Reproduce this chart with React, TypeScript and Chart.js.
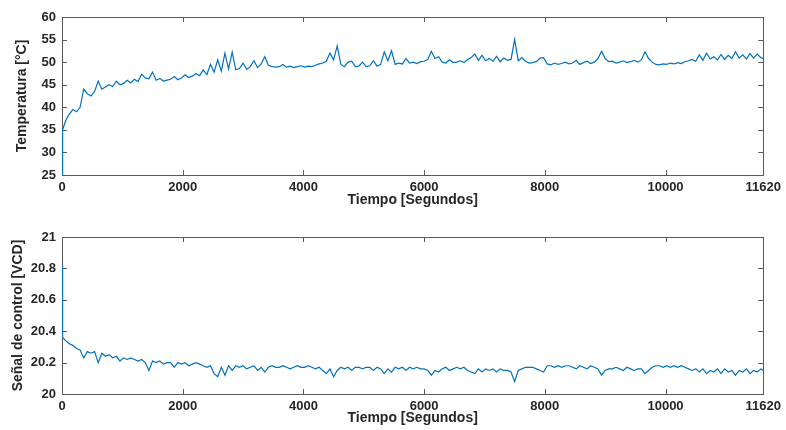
import React, { useEffect, useRef } from "react";
import { Chart, registerables } from "chart.js";

Chart.register(...registerables);

const times = [
  0, 10, 60, 120, 180, 240, 300, 360, 420, 480, 540,
  600, 660, 720, 780, 840, 900, 960, 1020, 1080, 1140,
  1200, 1260, 1320, 1380, 1440, 1500, 1560, 1620, 1680, 1740,
  1800, 1860, 1920, 1980, 2040, 2100, 2160, 2220, 2280, 2340,
  2400, 2460, 2520, 2580, 2640, 2700, 2760, 2820, 2880, 2940,
  3000, 3060, 3120, 3180, 3240, 3300, 3360, 3420, 3480, 3540,
  3600, 3660, 3720, 3780, 3840, 3900, 3960, 4020, 4080, 4140,
  4200, 4260, 4320, 4380, 4440, 4500, 4560, 4620, 4680, 4740,
  4800, 4860, 4920, 4980, 5040, 5100, 5160, 5220, 5280, 5340,
  5400, 5460, 5520, 5580, 5640, 5700, 5760, 5820, 5880, 5940,
  6000, 6060, 6120, 6180, 6240, 6300, 6360, 6420, 6480, 6540,
  6600, 6660, 6720, 6780, 6840, 6900, 6960, 7020, 7080, 7140,
  7200, 7260, 7320, 7380, 7440, 7500, 7560, 7620, 7680, 7740,
  7800, 7860, 7920, 7980, 8040, 8100, 8160, 8220, 8280, 8340,
  8400, 8460, 8520, 8580, 8640, 8700, 8760, 8820, 8880, 8940,
  9000, 9060, 9120, 9180, 9240, 9300, 9360, 9420, 9480, 9540,
  9600, 9660, 9720, 9780, 9840, 9900, 9960, 10020, 10080, 10140,
  10200, 10260, 10320, 10380, 10440, 10500, 10560, 10620, 10680, 10740,
  10800, 10860, 10920, 10980, 11040, 11100, 11160, 11220, 11280, 11340,
  11400, 11460, 11520, 11580, 11620,
];

const temperature = [
  25, 35, 37, 38.5, 39.5, 39, 40, 44, 43, 42.5, 43.5,
  45.8, 44, 44.5, 45, 44.6, 45.8, 45, 45.3, 46, 45.4,
  46.2, 45.7, 47.3, 46.5, 46.3, 47.8, 46, 46.4, 45.8, 46,
  46.2, 46.8, 46.1, 46.5, 47.2, 46.6, 46.9, 47.5, 47, 48.3,
  47.2, 49.5, 47.8, 50.5, 48, 52, 48.5, 52.2, 48.3, 48.6,
  49.8, 48.4, 49, 50.3, 48.8, 49.6, 51.2, 49.3, 49, 48.9,
  49, 49.5, 48.9, 49.1, 48.8, 49, 49.2, 48.9, 49.1, 49,
  49.3, 49.6, 49.8, 50.2, 52, 50.5, 53.6, 49.5, 49, 50,
  50.2, 49, 49.1, 50, 49, 49.2, 50.3, 49.1, 49.5, 52.3,
  50.3, 52.5, 49.5, 49.8, 49.6, 50.8, 49.8, 50, 49.7, 50.1,
  50.2, 50.6, 52.4, 50.8, 51.2, 50, 49.8, 50.5, 49.9, 50,
  50.3, 49.9, 50.6, 51, 51.8, 50.4, 51.5, 50.3, 50.8, 50.2,
  51.3, 50.1, 50.9, 50.4, 50.6, 55, 50.3, 51, 50.2, 49.8,
  49.9, 50.1, 50.9, 51, 49.6, 49.4, 49.8, 49.5, 49.7, 50,
  49.6, 49.8, 50.4, 49.5, 49.9, 50.2, 49.7, 50, 50.8, 52.4,
  50.8, 50.1, 50.2, 49.8, 50, 50.3, 49.9, 50.1, 50.4, 50,
  50.5, 52.3, 50.8, 50, 49.5, 49.4, 49.6, 49.5, 49.8, 49.6,
  49.9, 49.7, 50.1, 50.3, 50.6, 50.2, 51.6, 50.4, 52, 50.7,
  51.2, 50.5, 51.7, 50.6, 51.5, 50.8, 52.3, 50.9, 51.6, 50.7,
  51.9, 50.9, 51.8, 51, 50.8,
];

const control = [
  20.82, 20.36, 20.34, 20.32, 20.31, 20.29, 20.28, 20.23, 20.27, 20.26, 20.27,
  20.2, 20.26, 20.24, 20.25, 20.23, 20.24, 20.21, 20.23, 20.22, 20.23,
  20.22, 20.21, 20.22, 20.2, 20.15, 20.21, 20.2, 20.21, 20.19, 20.2,
  20.2, 20.17, 20.2, 20.19, 20.2, 20.18, 20.19, 20.2, 20.19, 20.18,
  20.17, 20.18, 20.13, 20.11, 20.17, 20.12, 20.18, 20.15, 20.18, 20.17,
  20.18, 20.16, 20.17, 20.18, 20.15, 20.17, 20.14, 20.17, 20.18, 20.17,
  20.17, 20.18, 20.17, 20.16, 20.17, 20.18, 20.17, 20.17, 20.18, 20.17,
  20.16, 20.17, 20.15, 20.13, 20.16, 20.11, 20.15, 20.17, 20.16, 20.17,
  20.15, 20.17, 20.17, 20.16, 20.17, 20.17, 20.15, 20.17, 20.16, 20.13,
  20.16, 20.14, 20.17, 20.16, 20.17, 20.15, 20.17, 20.16, 20.17, 20.16,
  20.16, 20.15, 20.12, 20.15, 20.14, 20.16, 20.17, 20.15, 20.16, 20.17,
  20.16, 20.17, 20.15, 20.14, 20.13, 20.16, 20.14, 20.16, 20.15, 20.16,
  20.14, 20.16, 20.15, 20.15, 20.14, 20.08, 20.15, 20.16, 20.17, 20.17,
  20.17, 20.16, 20.15, 20.14, 20.18, 20.18, 20.17, 20.18, 20.17, 20.18,
  20.18, 20.17, 20.16, 20.18, 20.17, 20.16, 20.18, 20.17, 20.16, 20.12,
  20.15, 20.16, 20.16, 20.17, 20.16, 20.15, 20.17, 20.16, 20.15, 20.16,
  20.16, 20.13, 20.15, 20.17, 20.18, 20.18, 20.17, 20.18, 20.17, 20.18,
  20.17, 20.18, 20.17, 20.16, 20.15, 20.16, 20.14, 20.16, 20.13, 20.15,
  20.14, 20.16, 20.13, 20.16, 20.14, 20.15, 20.12, 20.15, 20.14, 20.16,
  20.13, 20.15, 20.14, 20.16, 20.15,
];

const xTicks = [0, 2000, 4000, 6000, 8000, 10000, 11620];
const xTitle = "Tiempo [Segundos]";
const tempTitle = "Temperatura [°C]";
const controlTitle = "Señal de control [VCD]";

const FONT = "'Liberation Sans', Arial, Helvetica, sans-serif";
const TXT = "#262626";
const LINE = "#0072BD";

const boxPlugin = {
  id: "matlabBox",
  beforeDatasetsDraw(chart: any) {
    const { ctx, chartArea } = chart;
    const { left, right, top, bottom } = chartArea;
    const x = chart.scales.x;
    const y = chart.scales.y;
    ctx.save();
    ctx.strokeStyle = "#5a5a5a";
    ctx.lineWidth = 1;
    ctx.beginPath();
    x.ticks.forEach((t: any) => {
      const px = Math.round(x.getPixelForValue(t.value)) + 0.5;
      ctx.moveTo(px, bottom);
      ctx.lineTo(px, bottom - 5);
      ctx.moveTo(px, top);
      ctx.lineTo(px, top + 5);
    });
    y.ticks.forEach((t: any) => {
      const py = Math.round(y.getPixelForValue(t.value)) + 0.5;
      ctx.moveTo(left, py);
      ctx.lineTo(left + 5, py);
      ctx.moveTo(right, py);
      ctx.lineTo(right - 5, py);
    });
    ctx.stroke();
    ctx.strokeRect(Math.round(left) + 0.5, Math.round(top) + 0.5, Math.round(right - left), Math.round(bottom - top));
    ctx.restore();
  },
};

function makeConfig(
  values: number[],
  yMin: number,
  yMax: number,
  step: number,
  yTitle: string,
  padTop: number,
  xAxisHeight: number,
  xTitlePad: number,
  yTitlePad: number
): any {
  return {
    type: "line",
    data: {
      datasets: [
        {
          data: times.map((t, i) => ({ x: t, y: values[i] })),
          borderColor: LINE,
          borderWidth: 1.2,
          pointRadius: 0,
          tension: 0,
          fill: false,
        },
      ],
    },
    options: {
      responsive: false,
      animation: false,
      events: [],
      layout: { padding: { top: padTop, right: 21, left: 0, bottom: 0 } },
      plugins: { legend: { display: false }, tooltip: { enabled: false } },
      scales: {
        x: {
          type: "linear",
          min: 0,
          max: 11620,
          afterBuildTicks: (s: any) => {
            s.ticks = xTicks.map((v) => ({ value: v }));
          },
          afterFit: (s: any) => {
            s.height = xAxisHeight;
          },
          grid: { display: false, drawTicks: false },
          border: { display: false },
          ticks: {
            autoSkip: false,
            maxRotation: 0,
            padding: 5,
            color: TXT,
            font: { family: FONT, size: 13, weight: "bold" },
            callback: (v: any) => String(v),
          },
          title: {
            display: true,
            text: xTitle,
            color: TXT,
            font: { family: FONT, size: 14, weight: "bold" },
            padding: { top: 0, bottom: xTitlePad },
          },
        },
        y: {
          min: yMin,
          max: yMax,
          afterFit: (s: any) => {
            s.width = 62;
          },
          grid: { display: false, drawTicks: false },
          border: { display: false },
          ticks: {
            stepSize: step,
            padding: 6,
            color: TXT,
            font: { family: FONT, size: 13, weight: "bold" },
            callback: (v: any) => String(Number(Number(v).toFixed(2))),
          },
          title: {
            display: true,
            text: yTitle,
            color: TXT,
            font: { family: FONT, size: 14, weight: "bold" },
            padding: { top: yTitlePad, bottom: 0 },
          },
        },
      },
    },
    plugins: [boxPlugin],
  };
}

function ChartCanvas({ config, top }: { config: any; top: number }) {
  const ref = useRef<HTMLCanvasElement | null>(null);
  useEffect(() => {
    if (!ref.current) return;
    const chart = new Chart(ref.current, config);
    return () => chart.destroy();
  }, [config]);
  return (
    <canvas
      ref={ref}
      width={786}
      height={215}
      style={{ position: "absolute", left: 0, top, width: 786, height: 215 }}
    />
  );
}

const topConfig = makeConfig(temperature, 25, 60, 5, tempTitle, 17, 40, 6.6, 13.6);
const bottomConfig = makeConfig(control, 20, 21, 0.2, controlTitle, 22, 36, 3.6, 9.6);

export default function App() {
  return (
    <div style={{ position: "fixed", left: 0, top: 0, width: 786, height: 430, background: "#fff" }}>
      <ChartCanvas config={topConfig} top={0} />
      <ChartCanvas config={bottomConfig} top={215} />
    </div>
  );
}
